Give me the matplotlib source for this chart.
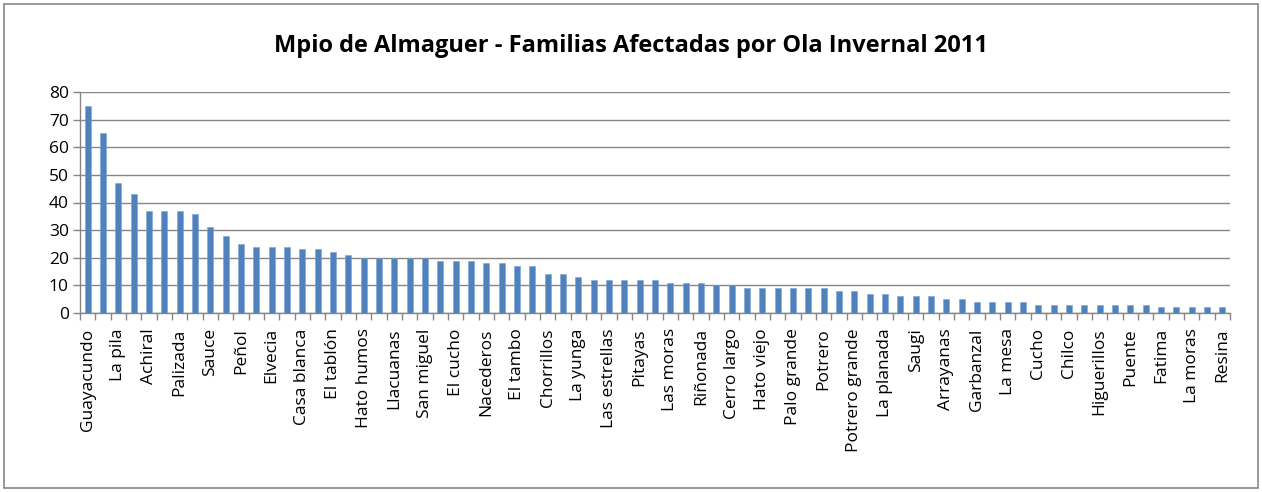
import matplotlib
matplotlib.use("Agg")
import matplotlib.pyplot as plt
from matplotlib.patches import Rectangle
import numpy as np

plt.rcParams['font.family'] = ['Open Sans', 'DejaVu Sans']

title = "Mpio de Almaguer - Familias Afectadas por Ola Invernal 2011"

# labels shown on every other bar (bars 1, 3, 5, ...)
labels = ["Guayacundo", "La pila", "Achiral", "Palizada", "Sauce", "Peñol", "Elvecia",
          "Casa blanca", "El tablón", "Hato humos", "Llacuanas", "San miguel", "El cucho",
          "Nacederos", "El tambo", "Chorrillos", "La yunga", "Las estrellas", "Pitayas",
          "Las moras", "Riñonada", "Cerro largo", "Hato viejo", "Palo grande", "Potrero",
          "Potrero grande", "La planada", "Saugi", "Arrayanas", "Garbanzal", "La mesa",
          "Cucho", "Chilco", "Higuerillos", "Puente", "Fatima", "La moras", "Resina"]

values = [75, 65, 47, 43, 37, 37, 37, 36, 31, 28, 25, 24, 24, 24, 23, 23, 22, 21,
          20, 20, 20, 20, 20, 19, 19, 19, 18, 18, 17, 17, 14, 14, 13,
          12, 12, 12, 12, 12, 11, 11, 11, 10, 10, 9, 9, 9, 9, 9, 9,
          8, 8, 7, 7, 6, 6, 6, 5, 5, 4, 4, 4, 4,
          3, 3, 3, 3, 3, 3, 3, 3, 2, 2, 2, 2, 2]

yticks = [0, 10, 20, 30, 40, 50, 60, 70, 80]

W, H = 1262, 492
fig = plt.figure(figsize=(W / 100, H / 100), dpi=100)
fig.patch.set_facecolor("white")
fig.patches.append(Rectangle((4 / W, 4 / H), (W - 8) / W, (H - 8) / H,
                             transform=fig.transFigure, fill=False,
                             edgecolor="#868686", linewidth=1.2))

ax = fig.add_axes([80 / W, (H - 313) / H, 1150 / W, (313 - 92) / H])
n = len(values)
x = np.arange(n)
ax.bar(x, values, width=0.4, color="#4F81BD", edgecolor="#7EA3D3", linewidth=0.4, zorder=3)
ax.set_xlim(-0.5, n - 0.5)
ax.set_ylim(0, 80)
ax.set_yticks(yticks)
ax.set_yticklabels([str(t) for t in yticks], fontsize=12.5)
ax.yaxis.grid(True, color="#868686", linewidth=1.0, zorder=0)
ax.set_axisbelow(True)

ax.set_xticks(np.arange(0, n, 2))
ax.set_xticklabels(labels, rotation=90, fontsize=12.5)
ax.set_xticks(np.arange(-0.5, n, 1), minor=True)
ax.tick_params(axis="x", which="major", length=0, pad=11)
ax.tick_params(axis="x", which="minor", length=5, color="#868686", width=1)
ax.tick_params(axis="y", length=5, color="#868686", width=1, pad=3)

for s in ["top", "right"]:
    ax.spines[s].set_visible(False)
for s in ["left", "bottom"]:
    ax.spines[s].set_color("#868686")
    ax.spines[s].set_linewidth(1.0)

fig.text(0.5, (H - 46) / H, title, ha="center", va="center", fontsize=17, fontweight="bold")

fig.savefig("out.png", dpi=100)
